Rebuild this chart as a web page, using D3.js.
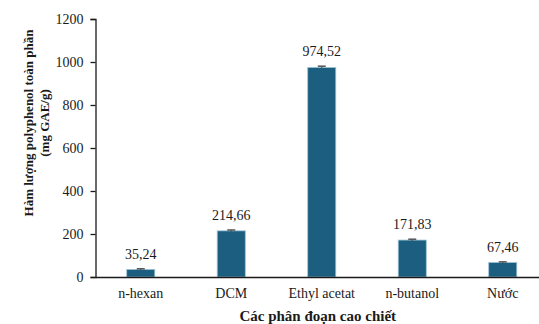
<!DOCTYPE html>
<html>
<head>
<meta charset="utf-8">
<script src="https://cdn.jsdelivr.net/npm/d3@7"></script>
<style>
  html, body { margin: 0; padding: 0; background: #fff; }
  svg { display: block; }
  text { font-family: "Liberation Serif", "Times New Roman", serif; fill: #1a1a1a; }
</style>
</head>
<body>
<script>
// Total polyphenol content per extract fraction (mg GAE/g)
const categories = ["n-hexan", "DCM", "Ethyl acetat", "n-butanol", "Nước"];
const values = [35.24, 214.66, 974.52, 171.83, 67.46];
const valueLabels = ["35,24", "214,66", "974,52", "171,83", "67,46"];
const errors = [3, 4, 6, 4, 3];
const yTicks = [0, 200, 400, 600, 800, 1000, 1200];

const W = 539, H = 324;
const margin = { left: 95.5, top: 19, bottom: 47 };
const plotW = 452.5;
const plotH = H - margin.top - margin.bottom;

const svg = d3.select("body").append("svg").attr("width", W).attr("height", H);

const x = d3.scaleBand().domain(categories).range([0, plotW]).paddingInner(0.69).paddingOuter(0.345);
const y = d3.scaleLinear().domain([0, 1200]).range([plotH, 0]);

const g = svg.append("g").attr("transform", `translate(${margin.left},${margin.top})`);

// bars
g.selectAll("rect.bar").data(values).join("rect")
  .attr("class", "bar")
  .attr("x", (d, i) => x(categories[i]))
  .attr("y", d => y(d))
  .attr("width", x.bandwidth())
  .attr("height", d => y(0) - y(d))
  .attr("fill", "#1b5e7f")
  .attr("stroke", "#9cc3d6")
  .attr("stroke-width", 0.8);

// error bars
const eb = g.selectAll("g.err").data(values).join("g").attr("class", "err")
  .attr("transform", (d, i) => `translate(${x(categories[i]) + x.bandwidth() / 2},0)`);
eb.append("line").attr("y1", (d, i) => y(d + errors[i])).attr("y2", (d, i) => y(d - errors[i]))
  .attr("stroke", "#555").attr("stroke-width", 1.2);
eb.append("line").attr("x1", -4).attr("x2", 4)
  .attr("y1", (d, i) => y(d + errors[i])).attr("y2", (d, i) => y(d + errors[i]))
  .attr("stroke", "#555").attr("stroke-width", 1.5);

// value labels
g.selectAll("text.val").data(values).join("text")
  .attr("class", "val")
  .attr("x", (d, i) => x(categories[i]) + x.bandwidth() / 2)
  .attr("y", (d, i) => y(d + errors[i]) - 10)
  .attr("text-anchor", "middle")
  .attr("font-size", 14)
  .text((d, i) => valueLabels[i]);

// y axis
const yAxis = g.append("g").call(d3.axisLeft(y).tickValues(yTicks).tickSize(5).tickPadding(7).tickFormat(d3.format("d")));
yAxis.selectAll("text").attr("font-size", 14).style("font-family", "Liberation Serif, serif").attr("fill", "#1a1a1a");
yAxis.selectAll("line, path").attr("stroke", "#1a1a1a").attr("stroke-width", 1.3);

// x axis
const xAxis = g.append("g").attr("transform", `translate(0,${plotH})`)
  .call(d3.axisBottom(x).tickSize(0).tickPadding(11));
xAxis.selectAll("text").attr("font-size", 14).style("font-family", "Liberation Serif, serif").attr("fill", "#1a1a1a");
xAxis.select("path").attr("stroke", "#1a1a1a").attr("stroke-width", 1.3);

// axis titles
svg.append("text")
  .attr("x", margin.left + plotW * 0.5 - 4)
  .attr("y", 321)
  .attr("text-anchor", "middle")
  .attr("font-size", 15)
  .attr("font-weight", "bold")
  .text("Các phân đoạn cao chiết");

const yt = svg.append("text")
  .attr("transform", "translate(0,123) rotate(-90)")
  .attr("text-anchor", "middle")
  .attr("font-size", 13)
  .attr("font-weight", "bold");
yt.append("tspan").attr("x", 0).attr("y", 33).text("Hàm lượng polyphenol toàn phần");
yt.append("tspan").attr("x", 0).attr("y", 49).text("(mg GAE/g)");
</script>
</body>
</html>
